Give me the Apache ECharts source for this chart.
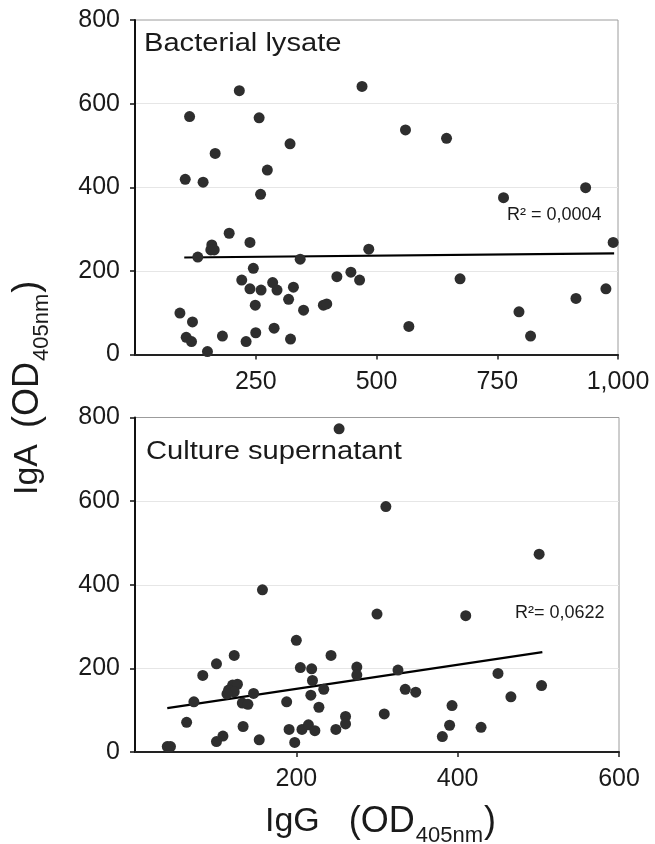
<!DOCTYPE html>
<html>
<head>
<meta charset="utf-8">
<script src="https://cdn.jsdelivr.net/npm/echarts@6/dist/echarts.min.js"></script>
<style>
  html, body { margin: 0; padding: 0; background: #fff; }
  #chart { width: 655px; height: 844px; }
</style>
</head>
<body>
<div id="chart"></div>
<script>
// ---------- Data ----------
// Bacterial lysate: IgG (x) and IgA (y)
var lysateIgG = [216, 470, 113, 257, 166, 321, 274, 104, 141, 260, 560, 645, 763, 933, 990,
  195, 238, 159, 157, 164, 130, 342, 484, 245, 221, 238, 261, 285, 294, 328, 318, 249, 349,
  390, 397, 418, 447, 465, 673, 93, 119, 106, 117, 150, 181, 230, 250, 288, 322, 567, 795,
  819, 913, 975];
var lysateIgA = [631, 641, 569, 566, 481, 504, 441, 419, 412, 383, 537, 517, 375, 399, 268,
  290, 268, 262, 250, 250, 233, 228, 252, 206, 178, 157, 154, 172, 154, 161, 132, 118, 106,
  118, 121, 186, 197, 178, 181, 99, 78, 41, 31, 7, 44, 31, 52, 63, 37, 67, 102,
  44, 134, 157];
// Culture supernatant
var supIgG = [253, 311, 501, 158, 300, 410, 200, 123, 243, 101, 84, 205, 219, 275, 275,
  326, 220, 450, 121, 127, 116, 123, 114, 147, 234, 218, 335, 348, 504, 466, 73, 133, 140,
  188, 228, 393, 309, 64, 261, 261, 134, 191, 207, 215, 223, 249, 390, 429, 381, 109, 101,
  154, 198, 40, 44];
var supIgA = [773, 587, 473, 388, 330, 326, 267, 231, 231, 211, 183, 202, 199, 203, 184,
  196, 171, 188, 160, 162, 148, 144, 139, 140, 150, 136, 150, 143, 159, 132, 120, 117, 114,
  120, 107, 111, 91, 71, 85, 67, 61, 54, 54, 65, 51, 54, 64, 59, 37, 38, 25,
  29, 23, 13, 13];
// Trend line end points (as drawn)
var lysateTrendX = [102, 992];
var lysateTrendY = [232, 242];
var supTrendX = [40, 505];
var supTrendY = [105, 239];
// Axis ranges / ticks
var yTicks = [0, 200, 400, 600, 800];
var lysateXTicks = [0, 250, 500, 750, 1000];
var supXTicks = [0, 200, 400, 600];
// Texts
var panelTitles = ['Bacterial lysate', 'Culture supernatant'];
var r2Labels = ['R\u00B2 = 0,0004', 'R\u00B2= 0,0622'];

function zip(a, b) { return a.map(function (v, i) { return [v, b[i]]; }); }

var FONT = '"Liberation Sans", Arial, Helvetica, sans-serif';
var INK = '#1a1a1a';
var DOT = '#2e2e2e';

var cv = document.createElement('canvas').getContext('2d');
function tw(text, size) { cv.font = size + 'px ' + FONT; return cv.measureText(text).width; }

function axisTitle(main, sub, startX, startY, rot, gap) {
  // builds a "Ig?   (OD405nm)" title as a group of text pieces
  var big = 34, big2 = 36, small = 22;
  var parts = [];
  var x = 0;
  parts.push({ type: 'text', x: x, y: 0, style: { text: main, fontSize: big, fontFamily: FONT, fill: INK, verticalAlign: 'middle' } });
  x = tw(main, big) + gap;
  parts.push({ type: 'text', x: x, y: 0, style: { text: '(OD', fontSize: big2, fontFamily: FONT, fill: INK, verticalAlign: 'middle' } });
  x += tw('(OD', big2) + 1;
  parts.push({ type: 'text', x: x, y: 14, style: { text: sub, fontSize: small, fontFamily: FONT, fill: INK, verticalAlign: 'middle' } });
  x += tw(sub, small) + 1;
  parts.push({ type: 'text', x: x, y: 0, style: { text: ')', fontSize: big2, fontFamily: FONT, fill: INK, verticalAlign: 'middle' } });
  return { type: 'group', x: startX, y: startY, rotation: rot, children: parts };
}

function yAxisCfg(gi) {
  return {
    type: 'value', gridIndex: gi, min: yTicks[0], max: yTicks[yTicks.length - 1], interval: yTicks[1] - yTicks[0],
    axisLine: { show: true, lineStyle: { color: '#111', width: 2 } },
    axisTick: { show: true, length: 5, lineStyle: { color: '#111', width: 1.5 } },
    axisLabel: { fontSize: 25, fontFamily: FONT, color: INK, margin: 15 },
    splitLine: { show: true, showMinLine: false, showMaxLine: false, lineStyle: { color: '#e6e6e6', width: 1 } }
  };
}
function xAxisCfg(gi, ticks) {
  return {
    type: 'value', gridIndex: gi, min: ticks[0], max: ticks[ticks.length - 1], interval: ticks[1] - ticks[0],
    axisLine: { show: true, onZero: false, lineStyle: { color: '#222', width: 2 } },
    axisTick: { show: true, length: 5, lineStyle: { color: '#222', width: 1.5 } },
    axisLabel: {
      fontSize: 25, fontFamily: FONT, color: INK, margin: 15, showMinLabel: false,
      formatter: function (v) { return v >= 1000 ? (Math.floor(v / 1000) + ',' + String(v % 1000).padStart(3, '0')) : String(v); }
    },
    splitLine: { show: false }
  };
}

var option = {
  animation: false,
  backgroundColor: '#ffffff',
  grid: [
    { left: 135, top: 20, width: 483, height: 334.5, show: true, borderColor: '#9c9c9c', borderWidth: 1, backgroundColor: 'transparent' },
    { left: 135, top: 417.5, width: 484, height: 334.5, show: true, borderColor: '#9c9c9c', borderWidth: 1, backgroundColor: 'transparent' }
  ],
  xAxis: [xAxisCfg(0, lysateXTicks), xAxisCfg(1, supXTicks)],
  yAxis: [yAxisCfg(0), yAxisCfg(1)],
  series: [
    { type: 'line', xAxisIndex: 0, yAxisIndex: 0, data: zip(lysateTrendX, lysateTrendY), symbol: 'none',
      lineStyle: { color: '#000', width: 2.2 }, z: 3 },
    { type: 'scatter', xAxisIndex: 0, yAxisIndex: 0, data: zip(lysateIgG, lysateIgA), symbolSize: 11,
      itemStyle: { color: DOT, opacity: 1 }, z: 4 },
    { type: 'line', xAxisIndex: 1, yAxisIndex: 1, data: zip(supTrendX, supTrendY), symbol: 'none',
      lineStyle: { color: '#000', width: 2.2 }, z: 3 },
    { type: 'scatter', xAxisIndex: 1, yAxisIndex: 1, data: zip(supIgG, supIgA), symbolSize: 11,
      itemStyle: { color: DOT, opacity: 1 }, z: 4 }
  ],
  graphic: [
    { type: 'text', x: 144, y: 44, style: { text: panelTitles[0], fontSize: 26, fontFamily: FONT, fill: INK, verticalAlign: 'middle' }, scaleX: 1.12 },
    { type: 'text', x: 146, y: 452, style: { text: panelTitles[1], fontSize: 26, fontFamily: FONT, fill: INK, verticalAlign: 'middle' }, scaleX: 1.12 },
    { type: 'text', x: 507, y: 215, style: { text: r2Labels[0], fontSize: 18, fontFamily: FONT, fill: INK, verticalAlign: 'middle' } },
    { type: 'text', x: 515, y: 613, style: { text: r2Labels[1], fontSize: 18, fontFamily: FONT, fill: INK, verticalAlign: 'middle' } },
    axisTitle('IgG', '405nm', 265, 822, 0, 29),
    axisTitle('IgA', '405nm', 28, 495, Math.PI / 2, 16)
  ]
};

var chart = echarts.init(document.getElementById('chart'), null, { renderer: 'canvas' });
chart.setOption(option);
</script>
</body>
</html>
